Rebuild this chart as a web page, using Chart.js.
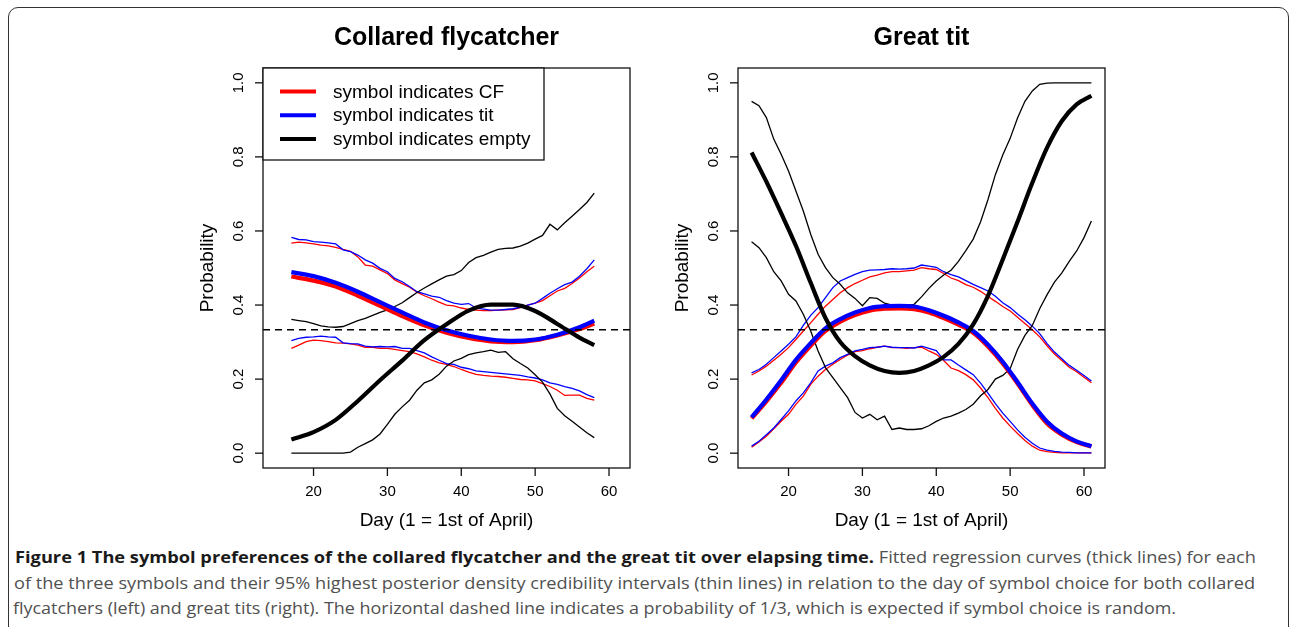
<!DOCTYPE html>
<html>
<head>
<meta charset="utf-8">
<script src="https://cdn.jsdelivr.net/npm/chart.js@4.4.0/dist/chart.umd.min.js"></script>
<style>
  html, body { margin: 0; padding: 0; background: #fff; overflow: hidden; }
  body { width: 1290px; height: 627px; position: relative; }
  #frame { position: absolute; left: 8px; top: 7px; width: 1281px; height: 680px;
           border: 1.5px solid #333; border-radius: 10px; box-sizing: border-box; }
  canvas { position: absolute; top: 0; }
  #c1 { left: 0; }
  #c2 { left: 645px; }
  .cap { position: absolute; white-space: nowrap; font-family: "Open Sans", sans-serif;
         font-size: 16px; line-height: 24px; color: #505050; transform-origin: 0 50%; }
  .cap b { color: #1a1a1a; font-weight: 700; }
</style>
</head>
<body>
<div id="frame"></div>
<canvas id="c1" width="645" height="540"></canvas>
<canvas id="c2" width="645" height="540"></canvas>

<div class="cap" style="left:15px; top:545px" data-w="1241"><b>Figure 1 The symbol preferences of the collared flycatcher and the great tit over elapsing time.</b> Fitted regression curves (thick lines) for each</div>
<div class="cap" style="left:14px; top:571px" data-w="1241">of the three symbols and their 95% highest posterior density credibility intervals (thin lines) in relation to the day of symbol choice for both collared</div>
<div class="cap" style="left:13px; top:596px" data-w="1163">flycatchers (left) and great tits (right). The horizontal dashed line indicates a probability of 1/3, which is expected if symbol choice is random.</div>

<script>
// axes (R-style, 4% padded limits)
const xLimits = [13.16, 62.84]
const yLimits = [-0.04, 1.04]
const xTicks = [20, 30, 40, 50, 60]
const yTicks = [0, 0.2, 0.4, 0.6, 0.8, 1.0]
const yTickLabels = ["0.0", "0.2", "0.4", "0.6", "0.8", "1.0"]
const chance = 1 / 3

// Collared flycatcher: fitted curves
const cfFitDays = [17, 20, 23, 26, 29, 32, 35, 38, 41, 44, 47, 50, 53, 56, 58]
const cfFitCF    = [0.477, 0.466, 0.450, 0.425, 0.398, 0.370, 0.345, 0.325, 0.311, 0.302, 0.300, 0.305, 0.318, 0.335, 0.350]
const cfFitTit   = [0.489, 0.478, 0.460, 0.436, 0.408, 0.380, 0.353, 0.332, 0.317, 0.307, 0.303, 0.307, 0.320, 0.340, 0.358]
const cfFitEmpty = [0.037, 0.057, 0.090, 0.141, 0.197, 0.250, 0.305, 0.348, 0.385, 0.401, 0.401, 0.384, 0.349, 0.312, 0.292]

// Collared flycatcher: 95% HPD intervals, days 17..58
const cfDays = [17, 18, 19, 20, 21, 22, 23, 24, 25, 26, 27, 28, 29, 30, 31, 32, 33, 34, 35, 36, 37,
                38, 39, 40, 41, 42, 43, 44, 45, 46, 47, 48, 49, 50, 51, 52, 53, 54, 55, 56, 57, 58]
const cfCFUpper = [0.567, 0.570, 0.568, 0.565, 0.562, 0.560, 0.556, 0.550, 0.545, 0.530,
                   0.508, 0.505, 0.495, 0.485, 0.468, 0.458, 0.448, 0.435, 0.425, 0.417,
                   0.408, 0.400, 0.398, 0.392, 0.388, 0.386, 0.385, 0.385, 0.386, 0.387,
                   0.388, 0.393, 0.400, 0.405, 0.412, 0.425, 0.438, 0.445, 0.458, 0.473, 0.490, 0.505]
const cfCFLower = [0.283, 0.292, 0.301, 0.305, 0.304, 0.301, 0.298, 0.297, 0.295, 0.292,
                   0.286, 0.286, 0.283, 0.283, 0.280, 0.277, 0.274, 0.268, 0.260, 0.251,
                   0.244, 0.240, 0.234, 0.226, 0.219, 0.213, 0.210, 0.208, 0.207, 0.205,
                   0.202, 0.199, 0.198, 0.195, 0.188, 0.180, 0.170, 0.156, 0.157, 0.157, 0.148, 0.143]
const cfTitUpper = [0.583, 0.577, 0.576, 0.571, 0.570, 0.568, 0.565, 0.549, 0.544, 0.535,
                    0.522, 0.513, 0.499, 0.490, 0.472, 0.463, 0.450, 0.436, 0.430, 0.424,
                    0.421, 0.412, 0.405, 0.402, 0.404, 0.392, 0.389, 0.386, 0.386, 0.388,
                    0.390, 0.394, 0.400, 0.405, 0.418, 0.432, 0.444, 0.455, 0.462, 0.478, 0.498, 0.522]
const cfTitLower = [0.304, 0.310, 0.313, 0.314, 0.316, 0.314, 0.313, 0.298, 0.296, 0.295,
                    0.289, 0.287, 0.288, 0.287, 0.288, 0.283, 0.283, 0.277, 0.271, 0.260,
                    0.251, 0.242, 0.240, 0.232, 0.228, 0.222, 0.220, 0.218, 0.216, 0.214,
                    0.212, 0.210, 0.206, 0.203, 0.198, 0.190, 0.186, 0.180, 0.175, 0.168, 0.158, 0.150]
const cfEmptyUpper = [0.361, 0.358, 0.355, 0.350, 0.344, 0.341, 0.340, 0.342, 0.350, 0.358,
                      0.364, 0.372, 0.380, 0.387, 0.396, 0.406, 0.420, 0.434, 0.446, 0.457,
                      0.468, 0.478, 0.482, 0.493, 0.515, 0.528, 0.534, 0.543, 0.550, 0.553,
                      0.554, 0.559, 0.567, 0.578, 0.588, 0.618, 0.603, 0.622, 0.640, 0.658, 0.677, 0.702]
const cfEmptyLower = [0, 0, 0, 0, 0, 0, 0, 0, 0.003, 0.016,
                      0.026, 0.036, 0.052, 0.078, 0.105, 0.125, 0.143, 0.170, 0.190, 0.198,
                      0.213, 0.235, 0.249, 0.256, 0.266, 0.271, 0.274, 0.278, 0.272, 0.274,
                      0.255, 0.242, 0.230, 0.212, 0.192, 0.160, 0.121, 0.101, 0.086, 0.071, 0.055, 0.042]

// Great tit: fitted curves
const gtFitDays = [15, 17, 19, 21, 23, 25, 27, 29, 31, 33, 35, 37, 39, 41, 43, 45, 47, 49, 51, 53, 55, 57, 59, 61]
const gtFitCF    = [0.094, 0.140, 0.190, 0.245, 0.290, 0.330, 0.355, 0.373, 0.385, 0.390, 0.391, 0.389,
                    0.380, 0.365, 0.347, 0.325, 0.288, 0.242, 0.188, 0.130, 0.080, 0.050, 0.030, 0.018]
const gtFitTit   = [0.097, 0.145, 0.197, 0.252, 0.297, 0.337, 0.362, 0.380, 0.392, 0.397, 0.398, 0.396,
                    0.386, 0.371, 0.353, 0.330, 0.293, 0.247, 0.192, 0.134, 0.085, 0.053, 0.032, 0.019]
const gtFitEmpty = [0.812, 0.733, 0.648, 0.560, 0.460, 0.365, 0.300, 0.262, 0.237, 0.222, 0.217, 0.222,
                    0.237, 0.260, 0.295, 0.348, 0.425, 0.523, 0.625, 0.730, 0.825, 0.897, 0.942, 0.965]

// Great tit: 95% HPD intervals, days 15..61
const gtDays = [15, 16, 17, 18, 19, 20, 21, 22, 23, 24, 25, 26, 27, 28, 29, 30, 31, 32, 33, 34, 35, 36, 37, 38,
                39, 40, 41, 42, 43, 44, 45, 46, 47, 48, 49, 50, 51, 52, 53, 54, 55, 56, 57, 58, 59, 60, 61]
const gtCFUpper = [0.211, 0.222, 0.235, 0.251, 0.267, 0.285, 0.307, 0.330, 0.352, 0.375,
                   0.397, 0.415, 0.433, 0.447, 0.458, 0.467, 0.476, 0.481, 0.487, 0.490,
                   0.490, 0.492, 0.494, 0.501, 0.498, 0.496, 0.485, 0.473, 0.466, 0.455,
                   0.448, 0.437, 0.423, 0.410, 0.396, 0.384, 0.367, 0.350, 0.333, 0.314,
                   0.290, 0.268, 0.250, 0.232, 0.220, 0.205, 0.190]
const gtCFLower = [0.016, 0.030, 0.046, 0.066, 0.086, 0.105, 0.132, 0.154, 0.186, 0.208,
                   0.226, 0.240, 0.253, 0.265, 0.274, 0.277, 0.282, 0.286, 0.289, 0.285,
                   0.285, 0.283, 0.285, 0.286, 0.276, 0.267, 0.250, 0.230, 0.223, 0.212,
                   0.198, 0.176, 0.150, 0.121, 0.095, 0.073, 0.053, 0.034, 0.019, 0.008,
                   0.004, 0.002, 0.001, 0.001, 0.001, 0.001, 0.001]
const gtTitUpper = [0.217, 0.226, 0.240, 0.258, 0.276, 0.294, 0.314, 0.345, 0.372, 0.393,
                    0.420, 0.447, 0.465, 0.474, 0.483, 0.490, 0.494, 0.495, 0.496, 0.498,
                    0.497, 0.498, 0.500, 0.508, 0.505, 0.502, 0.490, 0.482, 0.476, 0.466,
                    0.456, 0.447, 0.438, 0.424, 0.406, 0.393, 0.376, 0.360, 0.343, 0.323,
                    0.296, 0.273, 0.255, 0.237, 0.224, 0.210, 0.195]
const gtTitLower = [0.019, 0.032, 0.050, 0.068, 0.091, 0.114, 0.141, 0.163, 0.190, 0.222,
                    0.235, 0.244, 0.258, 0.267, 0.276, 0.280, 0.285, 0.286, 0.289, 0.286,
                    0.285, 0.285, 0.284, 0.289, 0.283, 0.277, 0.252, 0.252, 0.238, 0.225,
                    0.212, 0.189, 0.162, 0.134, 0.108, 0.086, 0.063, 0.043, 0.027, 0.014,
                    0.008, 0.005, 0.003, 0.002, 0.001, 0.001, 0.001]
const gtEmptyUpper = [0.950, 0.938, 0.906, 0.848, 0.807, 0.762, 0.708, 0.654, 0.591, 0.537,
                      0.501, 0.474, 0.456, 0.433, 0.418, 0.398, 0.420, 0.418, 0.405, 0.400,
                      0.400, 0.399, 0.402, 0.422, 0.445, 0.465, 0.481, 0.494, 0.518, 0.547,
                      0.578, 0.625, 0.685, 0.752, 0.805, 0.850, 0.905, 0.950, 0.978, 0.996,
                      0.999, 1.0, 1.0, 1.0, 1.0, 1.0, 1.0]
const gtEmptyLower = [0.571, 0.555, 0.528, 0.490, 0.465, 0.429, 0.411, 0.375, 0.330, 0.276,
                      0.231, 0.204, 0.177, 0.150, 0.110, 0.095, 0.105, 0.090, 0.100, 0.064,
                      0.068, 0.064, 0.064, 0.066, 0.074, 0.086, 0.095, 0.100, 0.108, 0.118,
                      0.132, 0.155, 0.172, 0.200, 0.210, 0.228, 0.280, 0.318, 0.345, 0.390,
                      0.428, 0.462, 0.487, 0.518, 0.546, 0.582, 0.627]

const legendLabels = ["symbol indicates CF", "symbol indicates tit", "symbol indicates empty"]
const seriesColors = ["#ff0000", "#0000ff", "#000000"]

const pts = (days, vals) => days.map((d, i) => ({ x: d, y: vals[i] }))
const thin = (data, color) => ({ data, borderColor: color, borderWidth: 1.3, pointRadius: 0, tension: 0 })
const thick = (data, color) => ({ data, borderColor: color, borderWidth: 4.2, pointRadius: 0,
                                  cubicInterpolationMode: "monotone" })
const chanceLine = () => ({ data: [{ x: xLimits[0], y: chance }, { x: xLimits[1], y: chance }],
                            borderColor: "#000", borderWidth: 1.4, borderDash: [7, 5], pointRadius: 0 })

// R-like frame: box, ticks, labels, titles, legend
function rFrame(title, withLegend) {
  return {
    id: "rFrame",
    afterDraw(chart) {
      const { ctx, chartArea: a, scales: { x, y } } = chart
      ctx.save()
      ctx.strokeStyle = "#111"
      ctx.lineWidth = 1.3
      ctx.strokeRect(a.left, a.top, a.right - a.left, a.bottom - a.top)

      ctx.fillStyle = "#000"
      ctx.font = "15px 'Liberation Sans', Arial, sans-serif"
      ctx.textAlign = "center"
      ctx.textBaseline = "middle"
      xTicks.forEach(v => {
        const px = x.getPixelForValue(v)
        ctx.beginPath(); ctx.moveTo(px, a.bottom); ctx.lineTo(px, a.bottom + 8); ctx.stroke()
        ctx.fillText(String(v), px, a.bottom + 24)
      })
      yTicks.forEach((v, i) => {
        const py = y.getPixelForValue(v)
        ctx.beginPath(); ctx.moveTo(a.left, py); ctx.lineTo(a.left - 8, py); ctx.stroke()
        ctx.save()
        ctx.translate(a.left - 24, py)
        ctx.rotate(-Math.PI / 2)
        ctx.fillText(yTickLabels[i], 0, 0)
        ctx.restore()
      })

      const cx = (a.left + a.right) / 2
      ctx.font = "19px 'Liberation Sans', Arial, sans-serif"
      ctx.fillText("Day (1 = 1st of April)", cx, a.bottom + 53)
      ctx.save()
      ctx.translate(a.left - 55, (a.top + a.bottom) / 2)
      ctx.rotate(-Math.PI / 2)
      ctx.fillText("Probability", 0, 0)
      ctx.restore()

      ctx.font = "bold 25px 'Liberation Sans', Arial, sans-serif"
      ctx.fillText(title, cx, a.top - 30)

      if (withLegend) {
        ctx.fillStyle = "#fff"
        ctx.fillRect(a.left, a.top, 281, 92)
        ctx.strokeRect(a.left, a.top, 281, 92)
        ctx.font = "19px 'Liberation Sans', Arial, sans-serif"
        ctx.textAlign = "left"
        legendLabels.forEach((lab, i) => {
          const ly = a.top + 23.5 + i * 23.7
          ctx.strokeStyle = seriesColors[i]
          ctx.lineWidth = 4
          ctx.beginPath(); ctx.moveTo(a.left + 17, ly); ctx.lineTo(a.left + 53, ly); ctx.stroke()
          ctx.fillStyle = "#000"
          ctx.fillText(lab, a.left + 70, ly + 1)
        })
      }
      ctx.restore()
    }
  }
}

// Chart.js paints the first dataset on top, so the list runs top -> bottom
function makePanel(id, pad, title, withLegend, ds) {
  new Chart(document.getElementById(id), {
    type: "line",
    data: { datasets: ds },
    options: {
      responsive: false,
      animation: false,
      events: [],
      layout: { padding: pad },
      plugins: { legend: { display: false }, tooltip: { enabled: false } },
      scales: {
        x: { type: "linear", display: false, min: xLimits[0], max: xLimits[1] },
        y: { type: "linear", display: false, min: yLimits[0], max: yLimits[1] }
      }
    },
    plugins: [rFrame(title, withLegend)]
  })
}

makePanel("c1", { left: 263, top: 68, right: 15, bottom: 72 }, "Collared flycatcher", true, [
  chanceLine(),
  thick(pts(cfFitDays, cfFitEmpty), seriesColors[2]),
  thick(pts(cfFitDays, cfFitTit), seriesColors[1]),
  thick(pts(cfFitDays, cfFitCF), seriesColors[0]),
  thin(pts(cfDays, cfEmptyUpper), seriesColors[2]),
  thin(pts(cfDays, cfEmptyLower), seriesColors[2]),
  thin(pts(cfDays, cfTitUpper), seriesColors[1]),
  thin(pts(cfDays, cfTitLower), seriesColors[1]),
  thin(pts(cfDays, cfCFUpper), seriesColors[0]),
  thin(pts(cfDays, cfCFLower), seriesColors[0])
])

makePanel("c2", { left: 93, top: 68, right: 185, bottom: 72 }, "Great tit", false, [
  chanceLine(),
  thick(pts(gtFitDays, gtFitEmpty), seriesColors[2]),
  thick(pts(gtFitDays, gtFitTit), seriesColors[1]),
  thick(pts(gtFitDays, gtFitCF), seriesColors[0]),
  thin(pts(gtDays, gtEmptyUpper), seriesColors[2]),
  thin(pts(gtDays, gtEmptyLower), seriesColors[2]),
  thin(pts(gtDays, gtTitUpper), seriesColors[1]),
  thin(pts(gtDays, gtTitLower), seriesColors[1]),
  thin(pts(gtDays, gtCFUpper), seriesColors[0]),
  thin(pts(gtDays, gtCFLower), seriesColors[0])
])

// squeeze caption lines to the widths seen in the figure
function fitCaption() {
  document.querySelectorAll(".cap").forEach(el => {
    el.style.transform = "none"
    const w = el.getBoundingClientRect().width
    el.style.transform = "scaleX(" + (+el.dataset.w / w) + ")"
  })
}
fitCaption()
if (document.fonts && document.fonts.ready) document.fonts.ready.then(fitCaption)
</script>
</body>
</html>
